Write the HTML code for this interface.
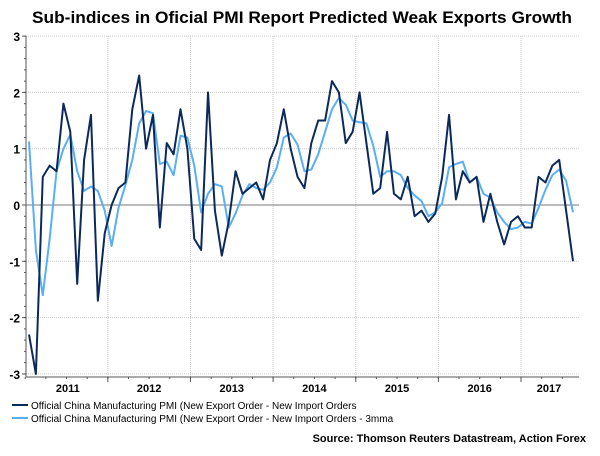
<!DOCTYPE html>
<html><head><meta charset="utf-8"><style>
body{margin:0;background:#fff;}
svg text{font-family:"Liberation Sans",Arial,sans-serif;}
</style></head><body>
<svg width="600" height="451" viewBox="0 0 600 451" xmlns="http://www.w3.org/2000/svg">
<text x="32" y="23" textLength="540" lengthAdjust="spacingAndGlyphs" font-size="17" font-weight="bold" fill="#000">Sub-indices in Oficial PMI Report Predicted Weak Exports Growth</text>
<g id="grid"></g>
<g id="axes"></g>
<g id="series"></g>
<g>
<line x1="12" y1="405" x2="28" y2="405" stroke="#0b2a5b" stroke-width="2"/>
<text x="31" y="409" font-size="10" fill="#000">Official China Manufacturing PMI (New Export Order - New Import Orders</text>
<line x1="12" y1="418" x2="28" y2="418" stroke="#5aaef5" stroke-width="2"/>
<text x="31" y="422" font-size="10" fill="#000">Official China Manufacturing PMI (New Export Order - New Import Orders - 3mma</text>
</g>
<text x="586" y="442" text-anchor="end" font-size="11" font-weight="bold" fill="#000">Source: Thomson Reuters Datastream, Action Forex</text>
</svg>
<script>
const pmi=[-2.3,-3.0,0.5,0.7,0.6,1.8,1.3,-1.4,0.8,1.6,-1.7,-0.5,0.0,0.3,0.4,1.7,2.3,1.0,1.6,-0.4,1.1,0.9,1.7,1.0,-0.6,-0.8,2.0,-0.1,-0.9,-0.3,0.6,0.2,0.3,0.4,0.1,0.8,1.1,1.7,1.0,0.5,
0.3,1.1,1.5,1.5,2.2,2.0,1.1,1.3,2.0,1.1,0.2,0.3,1.3,0.2,0.1,0.5,-0.2,-0.1,-0.3,-0.15,0.5,1.6,0.1,0.6,0.4,0.5,-0.3,0.2,-0.3,-0.7,-0.3,-0.2,-0.4,-0.4,0.5,0.4,0.7,0.8,-0.1,-1.0];
const mma=[1.13,-0.8,-1.6,-0.6,0.6,1.0,1.25,0.6,0.25,0.33,0.25,-0.1,-0.73,-0.05,0.35,0.8,1.45,1.67,1.63,0.73,0.77,0.53,1.23,1.2,0.7,-0.13,0.2,0.37,0.33,-0.4,-0.15,0.17,0.37,0.3,0.27,0.4,0.67,1.2,1.27,1.07,
0.6,0.63,0.9,1.3,1.7,1.9,1.78,1.5,1.47,1.45,1.05,0.5,0.6,0.6,0.53,0.3,0.17,0.07,-0.2,-0.13,0.03,0.67,0.73,0.77,0.4,0.5,0.2,0.13,-0.13,-0.3,-0.43,-0.4,-0.3,-0.33,-0.05,0.27,0.53,0.63,0.43,-0.13];
const yTicks=[3,2,1,0,-1,-2,-3];
const yearLabels=["2011","2012","2013","2014","2015","2016","2017"];
const NS="http://www.w3.org/2000/svg";
const L=26,R=579,T=36,B=377;
const x0=29,dx=6.886;
function xs(i){return x0+i*dx;}
function ys(v){return 205-v*56.3;}
function mk(tag,a,p){const e=document.createElementNS(NS,tag);for(const k in a)e.setAttribute(k,a[k]);p.appendChild(e);return e;}
const grid=document.getElementById('grid'),axes=document.getElementById('axes'),ser=document.getElementById('series');
const yb=[]; for(let k=0;k<6;k++) yb.push(xs(11.45+12*k));
yTicks.forEach(v=>{
 if(v!==0){const g=mk('line',{x1:L,x2:R,y1:ys(v),y2:ys(v),stroke:'#ccc','stroke-dasharray':'1,1'},grid);
 
 }
 const t=mk('text',{x:L-6,y:ys(v)+5,'text-anchor':'end','font-size':'12','font-weight':'bold',fill:'#000'},axes);
 t.textContent=v;
 
 
});
yb.forEach(x=>{const g=mk('line',{x1:x,x2:x,y1:T,y2:B,stroke:'#ccc','stroke-dasharray':'1,1'},grid);
 
 });
const zl=mk('line',{x1:L,x2:R,y1:ys(0),y2:ys(0),stroke:'#777','stroke-width':1},axes);


const ya=mk('line',{x1:L,x2:L,y1:T,y2:B,stroke:'#555'},axes);


const xa=mk('line',{x1:L,x2:R,y1:B,y2:B,stroke:'#555'},axes);


for(let v=-3;v<=3.001;v+=0.2){mk('line',{x1:L-2,x2:L,y1:ys(v),y2:ys(v),stroke:'#555'},axes);}
yTicks.forEach(v=>mk('line',{x1:L-4,x2:L,y1:ys(v),y2:ys(v),stroke:'#555'},axes));
for(let i=-0.55;i<80;i+=3){mk('line',{x1:xs(i),x2:xs(i),y1:B,y2:B+2,stroke:'#555'},axes);}
yb.forEach(x=>mk('line',{x1:x,x2:x,y1:B,y2:B+5,stroke:'#555'},axes));
yearLabels.forEach((s,k)=>{
 const cx=k<6?(k===0?yb[0]-40:(yb[k-1]+yb[k])/2):yb[5]+28;
 const t=mk('text',{x:cx,y:392,'text-anchor':'middle','font-size':'11','font-weight':'bold',fill:'#000'},axes);
 t.textContent=s;
 
 
});
function line(arr,col,name){
 const p=mk('polyline',{points:arr.map((v,i)=>xs(i)+','+ys(v)).join(' '),fill:'none',stroke:col,'stroke-width':2,'stroke-linejoin':'round'},ser);
 
 
}
line(mma,'#5aaef5','series-3mma');
line(pmi,'#0b2a5b','series-pmi');
</script>
</body></html>
